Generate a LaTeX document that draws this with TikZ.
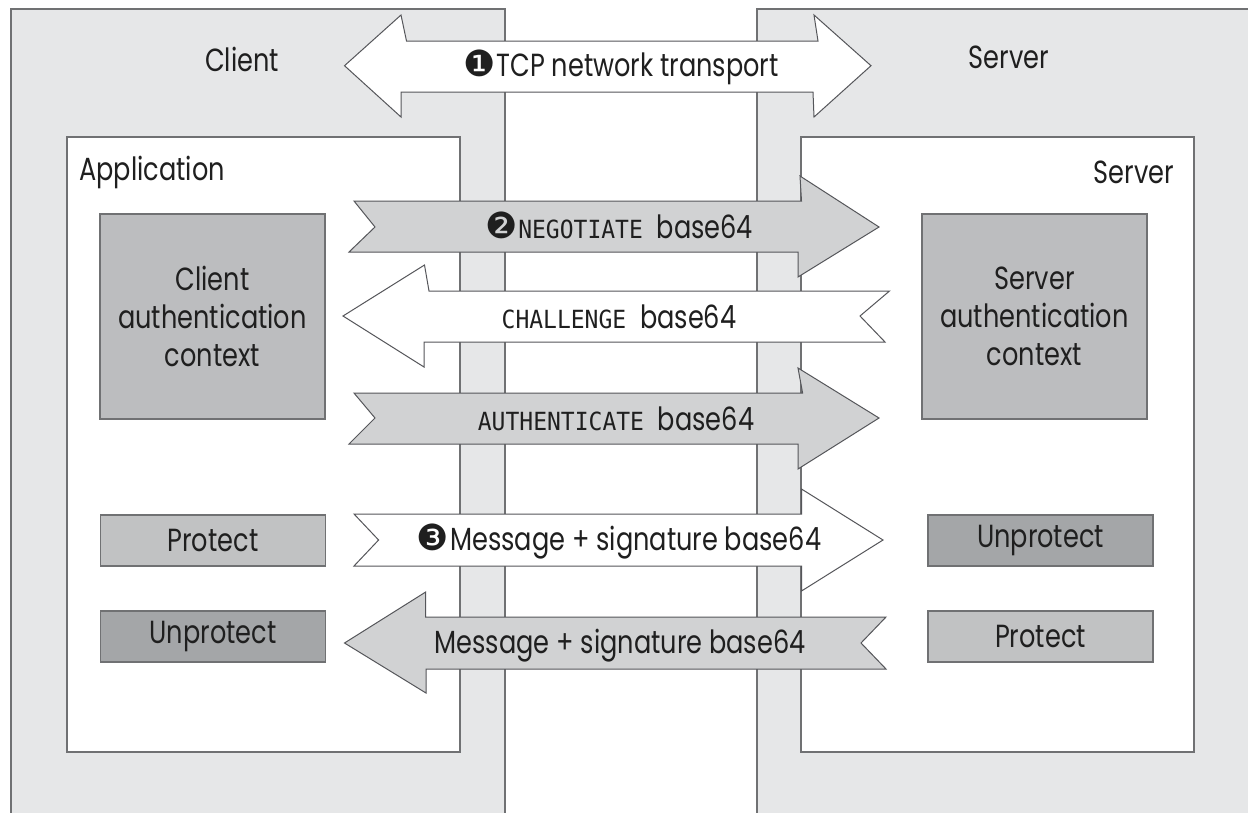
\documentclass[tikz,border=0pt]{standalone}
\usepackage{fontspec}
\setmainfont{Poppins}[FakeStretch=0.8]
\setmonofont{DejaVu Sans Mono}[FakeStretch=0.92]
\newfontfamily\dingfont{DejaVu Sans}
\definecolor{outergray}{HTML}{E6E7E8}
\definecolor{bordergray}{HTML}{707173}
\definecolor{arrowgray}{HTML}{D1D2D3}
\definecolor{arrowline}{HTML}{55565A}
\definecolor{authgray}{HTML}{BCBDBF}
\definecolor{protgray}{HTML}{C1C2C3}
\definecolor{unprotgray}{HTML}{A4A6A8}
\newcommand{\dnum}[1]{{\dingfont\fontsize{36}{36}\selectfont #1}\kern1pt}
\newcommand{\monot}[1]{{\ttfamily\fontsize{25}{25}\selectfont #1\ }}
\begin{document}
\begin{tikzpicture}[x=1pt,y=-1pt,
  lbl/.style={font=\fontsize{32}{38}\selectfont, inner sep=0pt, text=black!88},
  framebox/.style={draw=bordergray, line width=1.3pt},
  ctxbox/.style={draw=bordergray, line width=1.3pt, align=center, inner sep=0pt,
    minimum width=225pt, font=\fontsize{32}{38}\selectfont, text=black!88},
  arr/.style={draw=arrowline, line width=1pt, line join=miter},
  whitearr/.style={arr, fill=white},
  grayarr/.style={arr, fill=arrowgray}]
\useasboundingbox (0,0) rectangle (1248,812);
\fill[white] (0,0) rectangle (1248,812);
% outer hosts
\fill[outergray] (11,9) rectangle (505,830);
\draw[framebox] (11,830) -- (11,9) -- (505,9) -- (505,830);
\fill[outergray] (757,9) rectangle (1260,830);
\draw[framebox] (757,830) -- (757,9) -- (1260,9);
% applications
\draw[framebox, fill=white] (67,137) rectangle (460,752);
\draw[framebox, fill=white] (801,137) rectangle (1194,752);
% host labels
\node[lbl] (client) at (242,59) {Client};
\node[lbl] (server) at (1009,57) {Server};
\node[lbl, anchor=base west] (app) at (79,180) {Application};
\node[lbl, anchor=base east] (srvapp) at (1174,183) {Server};
% boxes
\node[ctxbox, fill=authgray, minimum height=205pt] (cac) at (212.5,316.5) {Client\\authentication\\context};
\node[ctxbox, fill=authgray, minimum height=205pt] (sac) at (1034.5,316.5) {Server\\authentication\\context};
\node[ctxbox, fill=protgray, minimum height=51pt] (cprot) at (213,540.5) {Protect};
\node[ctxbox, fill=unprotgray, minimum height=51pt] (cunprot) at (213,636.5) {Unprotect};
\node[ctxbox, fill=unprotgray, minimum height=51pt] (sunprot) at (1040.5,540.5) {Unprotect};
\node[ctxbox, fill=protgray, minimum height=51pt] (sprot) at (1040.5,636.5) {Protect};
% arrows
\draw[whitearr] (344.5,65.7) -- (401,15) -- (406.5,41) -- (818,41) -- (814,15) -- (871,65.7)
  -- (814,117) -- (813,92) -- (401,92) -- (401,117) -- cycle;
\draw[grayarr] (354,201) -- (801.5,201) -- (800,176) -- (879,227) -- (798,277) -- (798,252)
  -- (349,252) -- (375,227) -- cycle;
\draw[whitearr] (343,316) -- (424.5,265) -- (429,291) -- (889.5,291) -- (860,316) -- (885,342)
  -- (424,342) -- (424,367) -- cycle;
\draw[grayarr] (354,393) -- (802.6,393) -- (798,368) -- (879,418) -- (798,469) -- (798,444)
  -- (349,444) -- (375,418) -- cycle;
\draw[whitearr] (354,514) -- (801.5,514) -- (801.5,489) -- (883,540) -- (801.5,591) -- (801.5,566)
  -- (354,566) -- (378.6,540) -- cycle;
\draw[grayarr] (344.5,643) -- (425.7,592) -- (425.7,617) -- (886,617) -- (861,643) -- (886,669)
  -- (426,669) -- (426,693) -- cycle;
% arrow labels
\node[lbl, anchor=base] (tcp) at (621,76) {\dnum{❶}TCP network transport};
\node[lbl, anchor=base] (neg) at (619,238) {\dnum{❷}\monot{NEGOTIATE}base64};
\node[lbl, anchor=base] (chal) at (619,328) {\monot{CHALLENGE}base64};
\node[lbl, anchor=base] (auth) at (616,430) {\monot{AUTHENTICATE}base64};
\node[lbl, anchor=base] (msg1) at (619,550) {\dnum{❸}Message + signature base64};
\node[lbl, anchor=base] (msg2) at (620,653) {Message + signature base64};
\end{tikzpicture}
\end{document}
